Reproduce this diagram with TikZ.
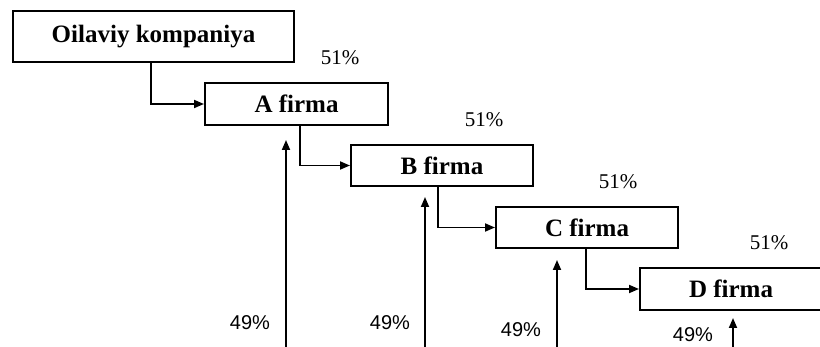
\documentclass[tikz,border=0pt]{standalone}
\usepackage{fontspec}
\setmainfont{Liberation Serif}
\newfontfamily\labsans{Liberation Sans}
\usetikzlibrary{arrows.meta}
\tikzset{
  firmbox/.style={draw, line width=2pt, rectangle, inner sep=0pt,
    font=\fontsize{25}{29}\selectfont\bfseries},
  conn/.style={line width=1.8pt, -{Triangle[length=10pt,width=8pt]}},
  pctA/.style={font=\fontsize{21}{24}\selectfont, inner sep=0pt},
  pctB/.style={font=\labsans\fontsize{20}{23}\selectfont, inner sep=0pt}
}
\begin{document}
\begin{tikzpicture}[x=1pt,y=-1pt]
\useasboundingbox (0,0) rectangle (820,347);
\clip (0,0) rectangle (820,347);
\fill[white] (0,0) rectangle (820,347);
\node[firmbox, minimum width=281pt, minimum height=51pt] (O) at (153.5,36.5) {Oilaviy kompaniya};
\node[firmbox, minimum width=183pt, minimum height=42pt] (A) at (296.5,104) {A firma};
\node[firmbox, minimum width=182pt, minimum height=41pt] (B) at (442,165.5) {B firma};
\node[firmbox, minimum width=182pt, minimum height=41pt] (C) at (587,227.5) {C firma};
\node[firmbox, minimum width=182pt, minimum height=42pt] (D) at (731,289) {D firma};
\draw[conn] ([xshift=-2.5pt]O.south) |- (A.west);
\draw[conn] ([xshift=3.5pt]A.south) |- (B.west);
\draw[conn] ([xshift=-4pt]B.south) |- (C.west);
\draw[conn] ([xshift=-1pt]C.south) |- (D.west);
\node[pctA] (p1) at (340,58) {51\%};
\node[pctA] (p2) at (484,120) {51\%};
\node[pctA] (p3) at (618,182) {51\%};
\node[pctA] (p4) at (769,243) {51\%};
\node[pctB] (q1) at (250,323) {49\%};
\node[pctB] (q2) at (390,323) {49\%};
\node[pctB] (q3) at (521,330) {49\%};
\node[pctB] (q4) at (693,335) {49\%};
\coordinate (s1) at (286,350); \coordinate (t1) at (286,140);
\coordinate (s2) at (425,350); \coordinate (t2) at (425,197);
\coordinate (s3) at (557,350); \coordinate (t3) at (557,260);
\coordinate (s4) at (733,350); \coordinate (t4) at (733,318);
\draw[conn] (s1) -- (t1);
\draw[conn] (s2) -- (t2);
\draw[conn] (s3) -- (t3);
\draw[conn] (s4) -- (t4);
\end{tikzpicture}
\end{document}
